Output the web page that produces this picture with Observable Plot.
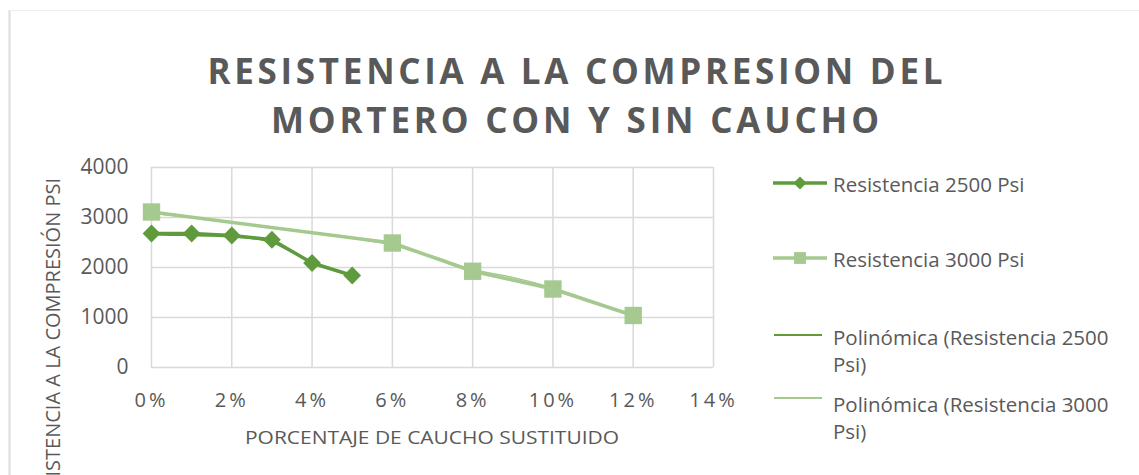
<!DOCTYPE html>
<html>
<head>
<meta charset="utf-8">
<script src="https://cdn.jsdelivr.net/npm/d3@7"></script>
<script src="https://cdn.jsdelivr.net/npm/@observablehq/plot@0.6"></script>
<style>
  html, body { margin: 0; padding: 0; background: #fff; }
  #chart svg { display: block; }
</style>
</head>
<body>
<div id="chart"></div>
<script>
// ---- Data ----
const pct2500 = [0, 1, 2, 3, 4, 5];
const res2500 = [2680, 2680, 2640, 2555, 2090, 1840];

const pct3000 = [0, 6, 8, 10, 12];
const res3000 = [3110, 2490, 1925, 1570, 1040];

// polynomial trend lines
const trendPct2500 = [0, 0.5, 1, 1.5, 2, 2.5, 3, 3.5, 4, 4.5, 5];
const trendRes2500 = [2655, 2648, 2640, 2632, 2615, 2580, 2500, 2310, 2110, 1960, 1850];

const trendPct3000 = [0, 1, 2, 3, 4, 5, 6, 6.5, 7, 8, 9, 10, 11, 12];
const trendRes3000 = [3085, 3000, 2905, 2805, 2700, 2585, 2455, 2330, 2225, 1960, 1800, 1590, 1320, 1040];

const xTicks = [0, 2, 4, 6, 8, 10, 12, 14];
const yTicks = [0, 1000, 2000, 3000, 4000];

const titleLines = ["RESISTENCIA A LA COMPRESION DEL", "MORTERO CON Y SIN CAUCHO"];
const xLabel = "PORCENTAJE DE CAUCHO SUSTITUIDO";
const yLabel = "RESISTENCIA A LA COMPRESIÓN PSI";
const legendNames = ["Resistencia 2500 Psi", "Resistencia 3000 Psi",
  ["Polinómica (Resistencia 2500", "Psi)"], ["Polinómica (Resistencia 3000", "Psi)"]];

const dark = "#5f9b3d";
const light = "#a5c98f";
const grid = "#d9d9d9";
const textCol = "#595959";
const font = "'Open Sans', sans-serif";

const s2500 = pct2500.map((x, i) => ({x, y: res2500[i]}));
const s3000 = pct3000.map((x, i) => ({x, y: res3000[i]}));
const t2500 = trendPct2500.map((x, i) => ({x, y: trendRes2500[i]}));
const t3000 = trendPct3000.map((x, i) => ({x, y: trendRes3000[i]}));

const W = 1139, H = 475;
const chart = Plot.plot({
  width: W, height: H,
  marginLeft: 151, marginRight: W - 713, marginTop: 167, marginBottom: H - 367,
  style: {fontFamily: font, background: "#fff", overflow: "visible"},
  x: {domain: [0, 14], ticks: xTicks},
  y: {domain: [0, 4000], ticks: yTicks},
  marks: [
    Plot.gridX(xTicks, {stroke: grid, strokeOpacity: 1, strokeWidth: 1.5}),
    Plot.gridY(yTicks, {stroke: grid, strokeOpacity: 1, strokeWidth: 1.5}),
    Plot.axisX(xTicks, {tickSize: 0, tickPadding: 25, fontSize: 20, fill: textCol,
      tickFormat: d => d + "%", label: null}),
    Plot.axisY(yTicks, {tickSize: 0, tickPadding: 23, fontSize: 21, fill: textCol,
      tickFormat: d3.format("d"), label: null}),
    Plot.line(s3000, {x: "x", y: "y", stroke: light, strokeWidth: 3.5}),
    Plot.line(t3000, {x: "x", y: "y", stroke: light, strokeWidth: 1.6, curve: "catmull-rom"}),
    Plot.dot(s3000, {x: "x", y: "y", symbol: "square", r: 9.8, fill: light, stroke: null}),
    Plot.line(s2500, {x: "x", y: "y", stroke: dark, strokeWidth: 3.5}),
    Plot.line(t2500, {x: "x", y: "y", stroke: dark, strokeWidth: 1.6, curve: "catmull-rom"}),
    Plot.dot(s2500, {x: "x", y: "y", symbol: "diamond2", r: 8, fill: dark, stroke: null})
  ]
});
document.getElementById("chart").appendChild(chart);

const svg = d3.select(chart);
// letter spacing on x tick labels
svg.selectAll('g[aria-label="x-axis tick label"] text').style("letter-spacing", "3px");

// frame lines
svg.insert("line", ":first-child").attr("x1", 9).attr("x2", W).attr("y1", 10.5).attr("y2", 10.5)
  .attr("stroke", "#efefef").attr("stroke-width", 1);
svg.insert("line", ":first-child").attr("x1", 9.5).attr("x2", 9.5).attr("y1", 10).attr("y2", H)
  .attr("stroke", "#dcdcdc").attr("stroke-width", 2);

// title
const titleBase = [84, 133];
const titleLen = [735, 608];
titleLines.forEach((t, i) => {
  svg.append("text").text(t)
    .attr("x", 575).attr("y", titleBase[i])
    .attr("text-anchor", "middle")
    .attr("textLength", titleLen[i]).attr("lengthAdjust", "spacing")
    .attr("font-family", font).attr("font-weight", "bold").attr("font-size", 35)
    .attr("fill", textCol);
});

// axis titles
svg.append("text").text(xLabel)
  .attr("x", 432).attr("y", 444).attr("text-anchor", "middle")
  .attr("textLength", 374).attr("lengthAdjust", "spacingAndGlyphs")
  .attr("font-family", font).attr("font-size", 19).attr("fill", textCol);

svg.append("text").text(yLabel)
  .attr("transform", "translate(60,178) rotate(-90)")
  .attr("text-anchor", "end")
  .attr("font-family", font).attr("font-size", 20).attr("fill", textCol);

// legend
const lg = svg.append("g").attr("font-family", font).attr("font-size", 20.5)
  .attr("fill", textCol).attr("text-anchor", "start");
const legY = [183, 258, 335, 398];
// entry 1
lg.append("line").attr("x1", 773).attr("x2", 827).attr("y1", legY[0]).attr("y2", legY[0])
  .attr("stroke", dark).attr("stroke-width", 3.5);
lg.append("path").attr("d", d3.symbol(d3.symbolDiamond2, 110)()).attr("transform", `translate(800,${legY[0]})`).attr("fill", dark);
// entry 2
lg.append("line").attr("x1", 773).attr("x2", 827).attr("y1", legY[1]).attr("y2", legY[1])
  .attr("stroke", light).attr("stroke-width", 3.5);
lg.append("path").attr("d", d3.symbol(d3.symbolSquare, 140)()).attr("transform", `translate(800,${legY[1]})`).attr("fill", light);
// entries 3,4
lg.append("line").attr("x1", 774).attr("x2", 822).attr("y1", legY[2]).attr("y2", legY[2])
  .attr("stroke", dark).attr("stroke-width", 2);
lg.append("line").attr("x1", 774).attr("x2", 822).attr("y1", legY[3]).attr("y2", legY[3])
  .attr("stroke", light).attr("stroke-width", 2);

lg.append("text").text(legendNames[0]).attr("x", 833).attr("y", 185).attr("dy", "0.35em");
lg.append("text").text(legendNames[1]).attr("x", 833).attr("y", 260).attr("dy", "0.35em");
lg.append("text").text(legendNames[2][0]).attr("x", 833).attr("y", 338).attr("dy", "0.35em");
lg.append("text").text(legendNames[2][1]).attr("x", 833).attr("y", 365).attr("dy", "0.35em");
lg.append("text").text(legendNames[3][0]).attr("x", 833).attr("y", 405).attr("dy", "0.35em");
lg.append("text").text(legendNames[3][1]).attr("x", 833).attr("y", 432).attr("dy", "0.35em");
</script>
</body>
</html>
